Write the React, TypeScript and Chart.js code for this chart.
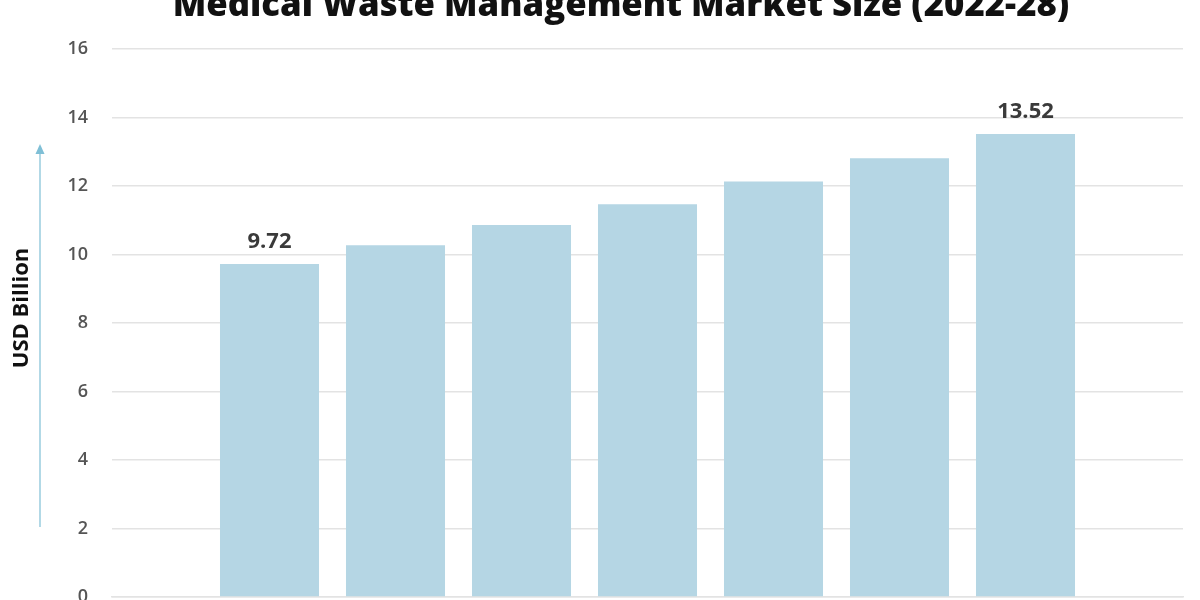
import React, { useEffect, useRef } from "react";
import { Chart, registerables } from "chart.js";

Chart.register(...registerables);

const TITLE = "Medical Waste Management Market Size (2022-28)";
const Y_TITLE = "USD Billion";
const years = [2022, 2023, 2024, 2025, 2026, 2027, 2028];
const marketSize = [9.72, 10.27, 10.86, 11.47, 12.13, 12.81, 13.52];
const labeledIndices = [0, 6];
const yTicks = [0, 2, 4, 6, 8, 10, 12, 14, 16];

const BAR_COLOR = "#b5d6e4";
const GRID_COLOR = "#e3e3e3";
const FONT = "'Open Sans', 'DejaVu Sans', sans-serif";

const decorPlugin = {
  id: "decor",
  afterDraw(chart: any) {
    const ctx = chart.ctx;
    ctx.save();
    // Title (cropped at top, as in reference)
    let size = 34;
    ctx.font = `800 ${size}px ${FONT}`;
    const w = ctx.measureText(TITLE).width;
    size = size * (897 / w);
    ctx.font = `800 ${size}px ${FONT}`;
    ctx.fillStyle = "#111111";
    ctx.textAlign = "center";
    ctx.textBaseline = "alphabetic";
    ctx.fillText(TITLE, 621, 56);

    // Y-axis title
    ctx.save();
    ctx.translate(22, 348);
    ctx.rotate(-Math.PI / 2);
    ctx.font = `700 22px ${FONT}`;
    ctx.fillStyle = "#111111";
    ctx.textAlign = "center";
    ctx.textBaseline = "middle";
    ctx.fillText(Y_TITLE, 0, 0);
    ctx.restore();

    // Arrow
    ctx.strokeStyle = "#7fbfd6";
    ctx.fillStyle = "#7fbfd6";
    ctx.lineWidth = 1.2;
    ctx.beginPath();
    ctx.moveTo(40, 567);
    ctx.lineTo(40, 192);
    ctx.stroke();
    ctx.beginPath();
    ctx.moveTo(40, 184);
    ctx.lineTo(35.5, 194);
    ctx.lineTo(44.5, 194);
    ctx.closePath();
    ctx.fill();

    // Value labels
    const meta = chart.getDatasetMeta(0);
    ctx.font = `700 22px ${FONT}`;
    ctx.fillStyle = "#3a3a3a";
    ctx.textAlign = "center";
    ctx.textBaseline = "alphabetic";
    labeledIndices.forEach((i) => {
      const bar = meta.data[i];
      ctx.fillText(marketSize[i].toFixed(2), bar.x, bar.y - 16);
    });
    ctx.restore();
  },
};

export default function App() {
  const ref = useRef<HTMLCanvasElement | null>(null);

  useEffect(() => {
    if (!ref.current) return;
    const chart = new Chart(ref.current, {
      type: "bar",
      data: {
        datasets: [
          {
            data: years.map((y, i) => ({ x: y, y: marketSize[i] })),
            backgroundColor: BAR_COLOR,
            borderWidth: 0,
            barPercentage: 0.786,
            categoryPercentage: 1,
          },
        ],
      },
      options: {
        animation: false,
        responsive: true,
        maintainAspectRatio: false,
        layout: { padding: { top: 89, right: 17, bottom: 55, left: 0 } },
        plugins: {
          legend: { display: false },
          title: { display: false },
          tooltip: { enabled: false },
        },
        scales: {
          x: {
            type: "linear",
            offset: false,
            min: 2020.75,
            max: 2029.25,
            afterBuildTicks: (scale: any) => {
              scale.ticks = years.map((v) => ({ value: v }));
            },
            ticks: { display: false },
            grid: { display: false, offset: false },
            border: { display: true, color: GRID_COLOR, width: 1.5 },
          },
          y: {
            min: 0,
            max: 16,
            afterBuildTicks: (scale: any) => {
              scale.ticks = yTicks.map((v) => ({ value: v }));
            },
            afterFit: (scale: any) => {
              scale.width = 112;
            },
            ticks: {
              padding: 24,
              color: "#555555",
              font: { family: FONT, size: 18, weight: "600" },
            },
            grid: { color: GRID_COLOR, lineWidth: 1.5, drawTicks: false },
            border: { display: false },
          },
        },
      },
      plugins: [decorPlugin],
    });
    return () => chart.destroy();
  }, []);

  return (
    <div
      style={{
        position: "fixed",
        left: 0,
        top: -40,
        width: 1200,
        height: 700,
        background: "#ffffff",
      }}
    >
      <canvas ref={ref} />
    </div>
  );
}
